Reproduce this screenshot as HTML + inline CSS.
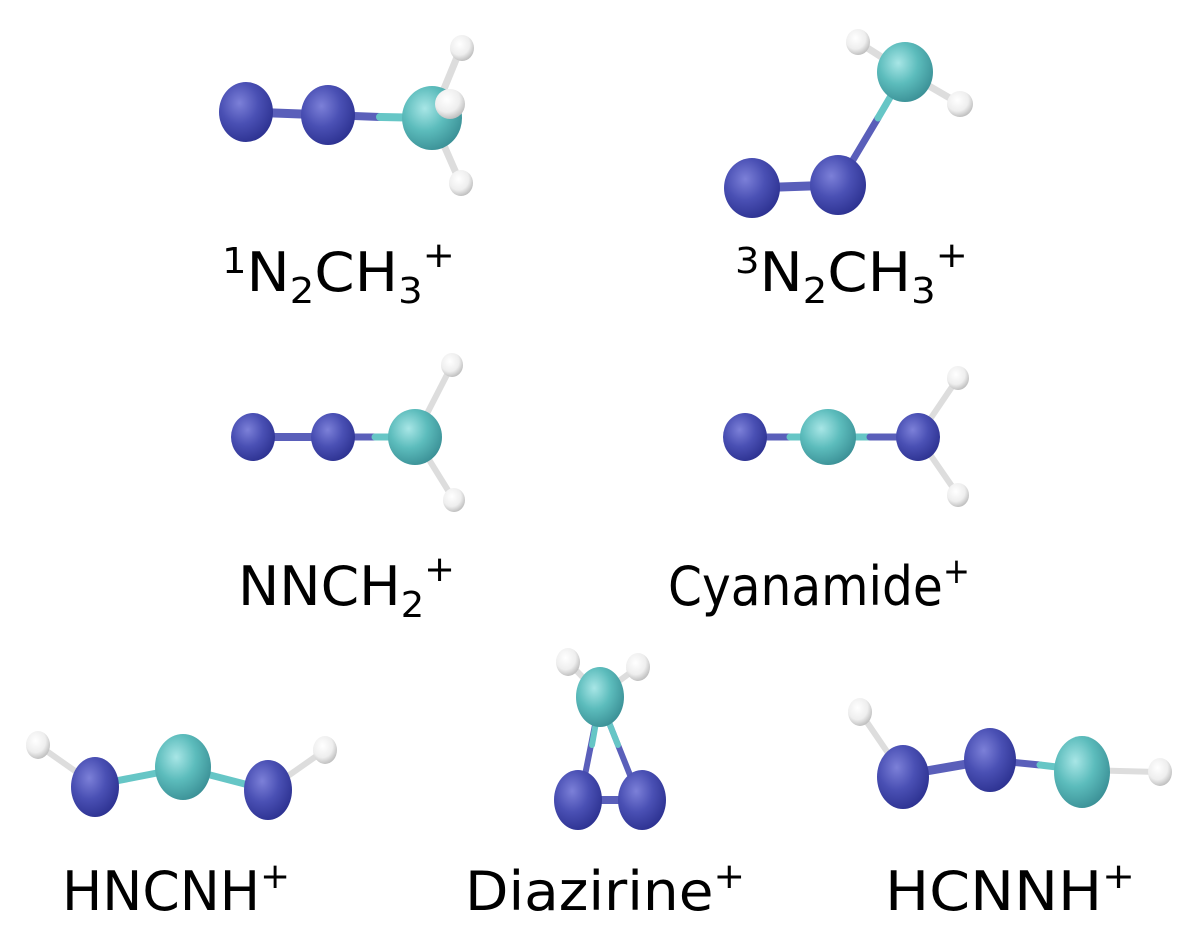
<!DOCTYPE html>
<html><head><meta charset="utf-8"><style>
html,body{margin:0;padding:0;background:#fff;width:1200px;height:948px;overflow:hidden}
svg{display:block}
text{font-family:"DejaVu Sans Condensed","DejaVu Sans","Liberation Sans",sans-serif;fill:#000}
</style></head><body>
<svg width="1200" height="948" viewBox="0 0 1200 948" xmlns="http://www.w3.org/2000/svg">
<defs>
<radialGradient id="gN" cx="0.38" cy="0.35" r="0.7"><stop offset="0" stop-color="#7c80d8"/><stop offset="0.5" stop-color="#4a50b4"/><stop offset="1" stop-color="#2c3190"/></radialGradient>
<radialGradient id="gC" cx="0.38" cy="0.35" r="0.7"><stop offset="0" stop-color="#a8e6e6"/><stop offset="0.5" stop-color="#5cbcbc"/><stop offset="1" stop-color="#3a8f95"/></radialGradient>
<radialGradient id="gH" cx="0.4" cy="0.35" r="0.7"><stop offset="0" stop-color="#ffffff"/><stop offset="0.6" stop-color="#eeeeee"/><stop offset="1" stop-color="#b8b8b8"/></radialGradient>
</defs>
<g stroke-linecap="round">
<line x1="246" y1="112" x2="328" y2="115" stroke="#5a5fba" stroke-width="9"/>
<line x1="328" y1="115" x2="380" y2="117" stroke="#5a5fba" stroke-width="8"/>
<line x1="380" y1="117" x2="432" y2="118" stroke="#66c6c6" stroke-width="8"/>
<line x1="432" y1="118" x2="460" y2="50" stroke="#ddd" stroke-width="7"/>
<line x1="432" y1="118" x2="460" y2="182" stroke="#ddd" stroke-width="7"/>
<ellipse cx="246" cy="112" rx="27" ry="30" fill="url(#gN)"/>
<ellipse cx="328" cy="115" rx="27" ry="30" fill="url(#gN)"/>
<ellipse cx="432" cy="118" rx="30" ry="32" fill="url(#gC)"/>
<ellipse cx="462" cy="48" rx="12" ry="13" fill="url(#gH)"/>
<ellipse cx="450" cy="104" rx="15" ry="15" fill="url(#gH)"/>
<ellipse cx="461" cy="183" rx="12" ry="13" fill="url(#gH)"/>
<line x1="752" y1="188" x2="838" y2="185" stroke="#5a5fba" stroke-width="9"/>
<line x1="838" y1="185" x2="878" y2="118" stroke="#5a5fba" stroke-width="7"/>
<line x1="878" y1="118" x2="905" y2="72" stroke="#66c6c6" stroke-width="7"/>
<line x1="905" y1="72" x2="858" y2="42" stroke="#ddd" stroke-width="7"/>
<line x1="905" y1="72" x2="960" y2="104" stroke="#ddd" stroke-width="7"/>
<ellipse cx="752" cy="188" rx="28" ry="30" fill="url(#gN)"/>
<ellipse cx="838" cy="185" rx="28" ry="30" fill="url(#gN)"/>
<ellipse cx="905" cy="72" rx="28" ry="30" fill="url(#gC)"/>
<ellipse cx="858" cy="42" rx="12" ry="13" fill="url(#gH)"/>
<ellipse cx="960" cy="104" rx="13" ry="13" fill="url(#gH)"/>
<line x1="253" y1="437" x2="333" y2="437" stroke="#5a5fba" stroke-width="8"/>
<line x1="333" y1="437" x2="375" y2="437" stroke="#5a5fba" stroke-width="7"/>
<line x1="375" y1="437" x2="415" y2="437" stroke="#66c6c6" stroke-width="7"/>
<line x1="415" y1="437" x2="452" y2="365" stroke="#ddd" stroke-width="6"/>
<line x1="415" y1="437" x2="454" y2="500" stroke="#ddd" stroke-width="6"/>
<ellipse cx="253" cy="437" rx="22" ry="24" fill="url(#gN)"/>
<ellipse cx="333" cy="437" rx="22" ry="24" fill="url(#gN)"/>
<ellipse cx="415" cy="437" rx="27" ry="28" fill="url(#gC)"/>
<ellipse cx="452" cy="365" rx="11" ry="12" fill="url(#gH)"/>
<ellipse cx="454" cy="500" rx="11" ry="12" fill="url(#gH)"/>
<line x1="745" y1="437" x2="790" y2="437" stroke="#5a5fba" stroke-width="7"/>
<line x1="790" y1="437" x2="870" y2="437" stroke="#66c6c6" stroke-width="7"/>
<line x1="870" y1="437" x2="918" y2="437" stroke="#5a5fba" stroke-width="7"/>
<line x1="918" y1="437" x2="958" y2="378" stroke="#ddd" stroke-width="6"/>
<line x1="918" y1="437" x2="958" y2="495" stroke="#ddd" stroke-width="6"/>
<ellipse cx="745" cy="437" rx="22" ry="24" fill="url(#gN)"/>
<ellipse cx="828" cy="437" rx="28" ry="28" fill="url(#gC)"/>
<ellipse cx="918" cy="437" rx="22" ry="24" fill="url(#gN)"/>
<ellipse cx="958" cy="378" rx="11" ry="12" fill="url(#gH)"/>
<ellipse cx="958" cy="495" rx="11" ry="12" fill="url(#gH)"/>
<line x1="38" y1="745" x2="95" y2="785" stroke="#ddd" stroke-width="6"/>
<line x1="95" y1="785" x2="183" y2="768" stroke="#66c6c6" stroke-width="7"/>
<line x1="183" y1="768" x2="268" y2="790" stroke="#66c6c6" stroke-width="7"/>
<line x1="268" y1="790" x2="325" y2="750" stroke="#ddd" stroke-width="6"/>
<ellipse cx="38" cy="745" rx="12" ry="14" fill="url(#gH)"/>
<ellipse cx="325" cy="750" rx="12" ry="14" fill="url(#gH)"/>
<ellipse cx="95" cy="787" rx="24" ry="30" fill="url(#gN)"/>
<ellipse cx="183" cy="767" rx="28" ry="33" fill="url(#gC)"/>
<ellipse cx="268" cy="790" rx="24" ry="30" fill="url(#gN)"/>
<line x1="600" y1="700" x2="580" y2="800" stroke="#5a5fba" stroke-width="6"/>
<line x1="600" y1="700" x2="640" y2="800" stroke="#5a5fba" stroke-width="6"/>
<line x1="600" y1="700" x2="592" y2="745" stroke="#66c6c6" stroke-width="6"/>
<line x1="600" y1="700" x2="618" y2="745" stroke="#66c6c6" stroke-width="6"/>
<line x1="580" y1="800" x2="640" y2="800" stroke="#5a5fba" stroke-width="8"/>
<line x1="600" y1="695" x2="568" y2="662" stroke="#ddd" stroke-width="6"/>
<line x1="600" y1="695" x2="638" y2="667" stroke="#ddd" stroke-width="6"/>
<ellipse cx="568" cy="662" rx="12" ry="14" fill="url(#gH)"/>
<ellipse cx="638" cy="667" rx="12" ry="14" fill="url(#gH)"/>
<ellipse cx="600" cy="697" rx="24" ry="30" fill="url(#gC)"/>
<ellipse cx="578" cy="800" rx="24" ry="30" fill="url(#gN)"/>
<ellipse cx="642" cy="800" rx="24" ry="30" fill="url(#gN)"/>
<line x1="860" y1="712" x2="903" y2="775" stroke="#ddd" stroke-width="6"/>
<line x1="903" y1="775" x2="990" y2="760" stroke="#5a5fba" stroke-width="9"/>
<line x1="990" y1="760" x2="1040" y2="765" stroke="#5a5fba" stroke-width="7"/>
<line x1="1040" y1="765" x2="1082" y2="770" stroke="#66c6c6" stroke-width="7"/>
<line x1="1082" y1="770" x2="1160" y2="772" stroke="#ddd" stroke-width="6"/>
<ellipse cx="860" cy="712" rx="12" ry="14" fill="url(#gH)"/>
<ellipse cx="1160" cy="772" rx="12" ry="14" fill="url(#gH)"/>
<ellipse cx="903" cy="777" rx="26" ry="32" fill="url(#gN)"/>
<ellipse cx="990" cy="760" rx="26" ry="32" fill="url(#gN)"/>
<ellipse cx="1082" cy="772" rx="28" ry="36" fill="url(#gC)"/>
</g>
<text x="222" y="291" font-size="54" textLength="233" lengthAdjust="spacingAndGlyphs"><tspan font-size="36" dy="-18">1</tspan><tspan dy="18">N</tspan><tspan font-size="36" dy="12">2</tspan><tspan dy="-12">CH</tspan><tspan font-size="36" dy="12">3</tspan><tspan font-size="36" dy="-36">+</tspan></text>
<text x="735" y="291" font-size="54" textLength="233" lengthAdjust="spacingAndGlyphs"><tspan font-size="36" dy="-18">3</tspan><tspan dy="18">N</tspan><tspan font-size="36" dy="12">2</tspan><tspan dy="-12">CH</tspan><tspan font-size="36" dy="12">3</tspan><tspan font-size="36" dy="-36">+</tspan></text>
<text x="238" y="605" font-size="54" textLength="217" lengthAdjust="spacingAndGlyphs">NNCH<tspan font-size="36" dy="12">2</tspan><tspan font-size="36" dy="-36">+</tspan></text>
<text x="668" y="605" font-size="54" textLength="302" lengthAdjust="spacingAndGlyphs">Cyanamide<tspan font-size="36" dy="-22">+</tspan></text>
<text x="62" y="910" font-size="54" textLength="228" lengthAdjust="spacingAndGlyphs">HNCNH<tspan font-size="36" dy="-22">+</tspan></text>
<text x="465" y="910" font-size="54" textLength="280" lengthAdjust="spacingAndGlyphs">Diazirine<tspan font-size="36" dy="-22">+</tspan></text>
<text x="885" y="910" font-size="54" textLength="250" lengthAdjust="spacingAndGlyphs">HCNNH<tspan font-size="36" dy="-22">+</tspan></text>
</svg>
</body></html>
